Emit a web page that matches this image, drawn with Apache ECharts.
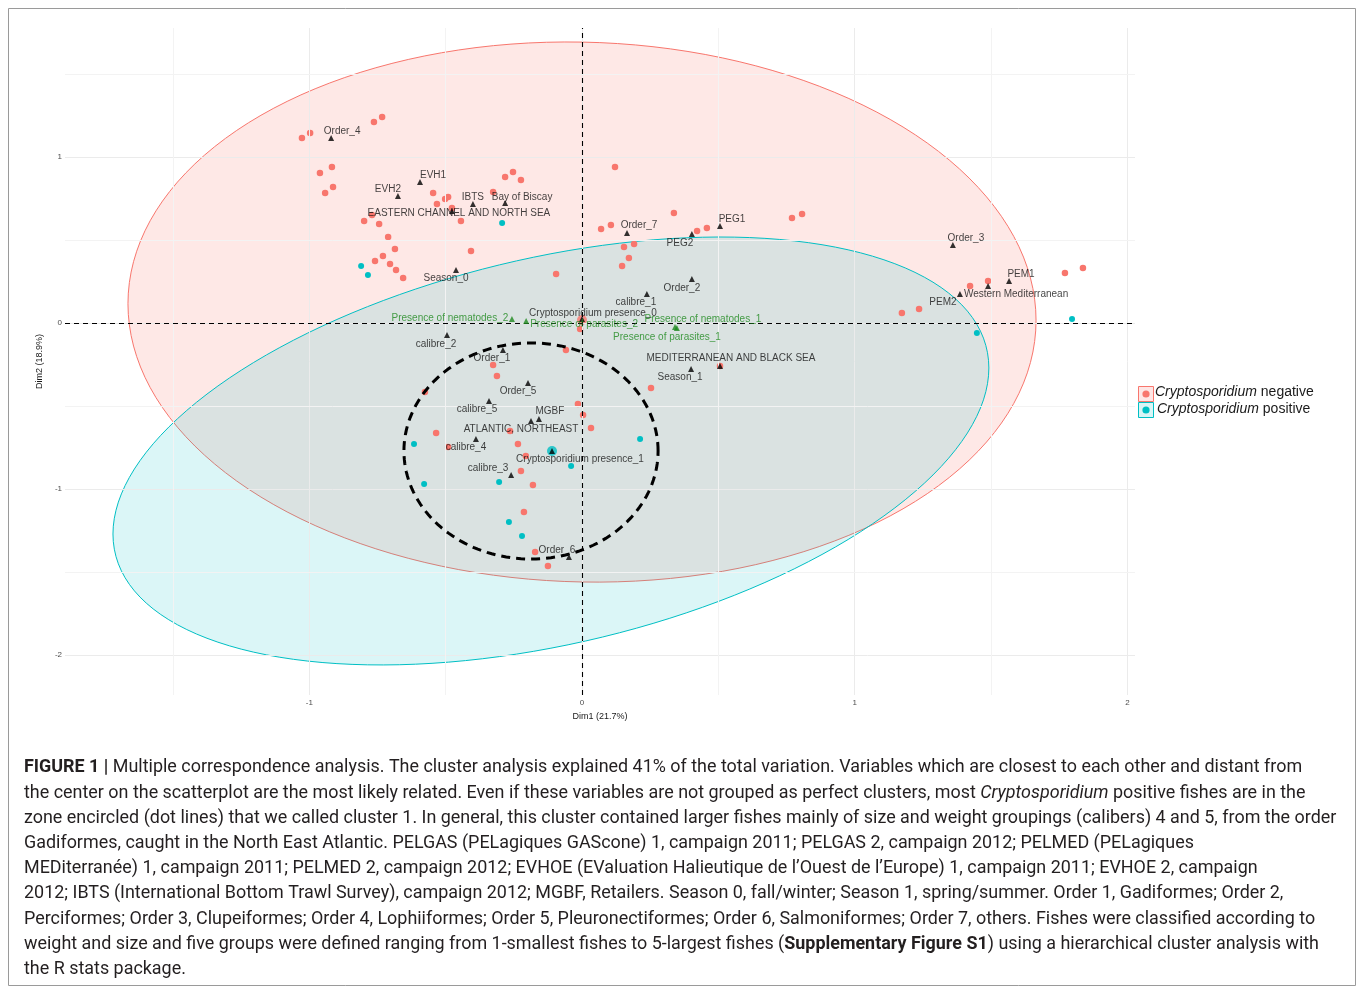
<!DOCTYPE html>
<html><head><meta charset="utf-8">
<script src="https://cdn.jsdelivr.net/npm/echarts@6/dist/echarts.min.js"></script>
<style>html,body{margin:0;padding:0;background:#fff}#c{width:1360px;height:988px}</style>
</head><body><div id="c"></div>
<script>
// ---------------- DATA ----------------
// Individuals (fishes), MCA coordinates [Dim1, Dim2]
const negativePoints = [
  [-1.027,1.114],[-0.997,1.145],[-0.763,1.211],[-0.733,1.241],[-0.961,0.904],[-0.917,0.940],
  [-0.942,0.783],[-0.913,0.819],[-0.546,0.783],[-0.532,0.717],[-0.502,0.747],[-0.491,0.759],
  [-0.477,0.693],[-0.444,0.614],[-0.799,0.614],[-0.770,0.651],[-0.744,0.596],[-0.711,0.518],
  [-0.686,0.446],[-0.730,0.404],[-0.759,0.373],[-0.704,0.355],[-0.682,0.319],[-0.656,0.271],
  [-0.407,0.434],[-0.282,0.880],[-0.253,0.910],[-0.224,0.861],[-0.326,0.789],[-0.095,0.295],
  [0.121,0.940],[0.070,0.566],[0.106,0.590],[0.337,0.663],[0.422,0.554],[0.458,0.572],
  [0.770,0.633],[0.807,0.657],[0.191,0.476],[0.154,0.458],[0.172,0.392],[0.147,0.343],
  [1.423,0.223],[1.489,0.253],[1.771,0.301],[1.837,0.331],[1.173,0.060],[1.236,0.084],
  [-0.007,-0.036],[-0.059,-0.163],[0.253,-0.392],[0.506,-0.259],[-0.015,-0.488],[0.004,-0.554],
  [0.033,-0.633],[-0.326,-0.253],[-0.312,-0.319],[-0.576,-0.416],[-0.264,-0.651],[-0.206,-0.801],
  [-0.535,-0.663],[-0.235,-0.729],[-0.491,-0.747],[-0.224,-0.892],[-0.180,-0.976],[-0.213,-1.139],
  [-0.172,-1.380],[-0.125,-1.464]
];
const positivePoints = [
  [-0.810,0.343],[-0.785,0.289],[-0.293,0.602],[-0.616,-0.729],[-0.579,-0.970],[-0.304,-0.958],
  [-0.268,-1.199],[-0.220,-1.283],[-0.040,-0.861],[0.213,-0.699],[1.448,-0.060],[1.797,0.024]
];
const groupMeanNegative = [0.000, 0.018];
const groupMeanPositive = [-0.110, -0.771];

// Active variable categories
const categoryNames = ['Order_4','EVH1','EVH2','IBTS','Bay of Biscay','EASTERN CHANNEL AND NORTH SEA','Season_0',
  'Order_7','PEG1','PEG2','Order_2','calibre_1','Order_3','PEM1','PEM2','Western Mediterranean',
  'Cryptosporidium presence_0','MEDITERRANEAN AND BLACK SEA','Season_1','calibre_2','Order_1','Order_5',
  'calibre_5','MGBF','ATLANTIC, NORTHEAST','calibre_4','Cryptosporidium presence_1','calibre_3','Order_6'];
const categoryX = [-0.920,-0.594,-0.675,-0.400,-0.282,-0.477,-0.462,
  0.165,0.506,0.403,0.403,0.238,1.360,1.566,1.386,1.489,
  0.000,0.506,0.400,-0.495,-0.290,-0.198,
  -0.341,-0.158,-0.187,-0.389,-0.110,-0.260,-0.048];
const categoryY = [1.114,0.849,0.765,0.717,0.723,0.675,0.319,
  0.542,0.584,0.536,0.265,0.175,0.470,0.253,0.175,0.223,
  0.024,-0.259,-0.277,-0.072,-0.163,-0.361,
  -0.470,-0.578,-0.590,-0.699,-0.771,-0.916,-1.410];

// Supplementary variable categories
const supplementaryNames = ['Presence of nematodes_2','Presence of parasites_2','Presence of nematodes_1','Presence of parasites_1'];
const supplementaryX = [-0.257,-0.205,0.348,0.341];
const supplementaryY = [0.024,0.012,-0.030,-0.024];

// Concentration ellipses: centre, half-width, half-height, Dim2 offset of the rightmost point
const ellipseNegative = {cx:0.000, cy:0.066, halfW:1.665, halfH:1.627, rightYOffset:-0.05};
const ellipsePositive = {cx:-0.114, cy:-0.771, halfW:1.606, halfH:1.289, rightYOffset:0.50};
const ellipseCluster1 = {cx:-0.187, cy:-0.771, halfW:0.466, halfH:0.651, rightYOffset:0.0};

// Axis ticks and grid
const xTicks = [-1, 0, 1, 2];
const yTicks = [-2, -1, 0, 1];
const xMinorGrid = [-1.5, -0.5, 0.5, 1.5];
const yMinorGrid = [-1.5, -0.5, 0.5, 1.5];

// Caption lines
const captionLines = [
  '{b|FIGURE 1 |} Multiple correspondence analysis. The cluster analysis explained 41% of the total variation. Variables which are closest to each other and distant from',
  'the center on the scatterplot are the most likely related. Even if these variables are not grouped as perfect clusters, most {i|Cryptosporidium} positive fishes are in the',
  'zone encircled (dot lines) that we called cluster 1. In general, this cluster contained larger fishes mainly of size and weight groupings (calibers) 4 and 5, from the order',
  'Gadiformes, caught in the North East Atlantic. PELGAS (PELagiques GAScone) 1, campaign 2011; PELGAS 2, campaign 2012; PELMED (PELagiques',
  'MEDiterranée) 1, campaign 2011; PELMED 2, campaign 2012; EVHOE (EValuation Halieutique de l\u2019Ouest de l\u2019Europe) 1, campaign 2011; EVHOE 2, campaign',
  '2012; IBTS (International Bottom Trawl Survey), campaign 2012; MGBF, Retailers. Season 0, fall/winter; Season 1, spring/summer. Order 1, Gadiformes; Order 2,',
  'Perciformes; Order 3, Clupeiformes; Order 4, Lophiiformes; Order 5, Pleuronectiformes; Order 6, Salmoniformes; Order 7, others. Fishes were classified according to',
  'weight and size and five groups were defined ranging from 1-smallest fishes to 5-largest fishes ({b|Supplementary Figure S1}) using a hierarchical cluster analysis with',
  'the R stats package.'
];

// ---------------- STYLE ----------------
const labelOffsets = {
  'Order_4':[11,-7],'EVH1':[13,-7],'EVH2':[-10,-7],'IBTS':[0,-7],'Bay of Biscay':[17,-6],
  'EASTERN CHANNEL AND NORTH SEA':[7,2],'Season_0':[-10,8],'Order_7':[12,-8],'PEG1':[12,-7],
  'PEG2':[-12,9],'Order_2':[-10,9],'calibre_1':[-11,8],'Order_3':[13,-7],'PEM1':[12,-7],
  'PEM2':[-17,8],'Western Mediterranean':[28,8],'Cryptosporidium presence_0':[11,-6],
  'MEDITERRANEAN AND BLACK SEA':[11,-8],'Season_1':[-11,8],'calibre_2':[-11,9],'Order_1':[-11,8],
  'Order_5':[-10,8],'calibre_5':[-12,8],'MGBF':[11,-8],'ATLANTIC, NORTHEAST':[-10,8],
  'calibre_4':[-10,8],'Cryptosporidium presence_1':[28,8],'calibre_3':[-23,-7],'Order_6':[-12,-7],
  'Presence of nematodes_2':[-62,-1],'Presence of parasites_2':[58,3],
  'Presence of nematodes_1':[26,-9],'Presence of parasites_1':[-8,10]
};
const RED = '#F8766D', CYAN = '#00BFC4', GREEN = '#1E8A1E';
const LABEL_FONT = '"Liberation Sans", Arial, sans-serif';
const CAPTION_FONT = 'Roboto, "Liberation Sans", sans-serif';

// fit caption font size so the longest line spans the reference width
const ctx = document.createElement('canvas').getContext('2d');
ctx.font = '18px ' + CAPTION_FONT;
const plain = captionLines[2].replace(/\{[a-z]\|([^}]*)\}/g, '$1');
const captionSize = Math.max(14, Math.min(20, 18 * 1313 / ctx.measureText(plain).width));

function ellipseSeries(e, fill, stroke, width, dash, z) {
  return {
    type: 'custom', coordinateSystem: 'cartesian2d', z: z, silent: true,
    data: [[e.cx, e.cy]],
    renderItem: function (params, api) {
      const q = Math.sqrt(e.halfH * e.halfH - e.rightYOffset * e.rightYOffset);
      const pts = [];
      const n = 160;
      for (let i = 0; i < n; i++) {
        const t = 2 * Math.PI * i / n;
        pts.push(api.coord([e.cx + e.halfW * Math.cos(t), e.cy + e.rightYOffset * Math.cos(t) + q * Math.sin(t)]));
      }
      return {type: 'polygon', shape: {points: pts},
        style: {fill: fill, stroke: stroke, lineWidth: width, lineDash: dash}};
    }
  };
}

function labelled(names, xs, ys) {
  return names.map((n, i) => ({
    name: n, value: [xs[i], ys[i]],
    label: {offset: labelOffsets[n] || [0, -8]}
  }));
}

const chart = echarts.init(document.getElementById('c'), null, {renderer: 'canvas'});

const graphic = [
  {type: 'rect', shape: {x: 8.5, y: 8.5, width: 1347, height: 977}, style: {fill: 'none', stroke: '#9a9a9a', lineWidth: 1}, z: 100},
  {type: 'rect', shape: {x: 1138.5, y: 386.5, width: 15, height: 15}, style: {fill: 'rgba(248,118,109,0.18)', stroke: RED, lineWidth: 1}},
  {type: 'circle', shape: {cx: 1146, cy: 394, r: 3.6}, style: {fill: RED}},
  {type: 'rect', shape: {x: 1138.5, y: 402.5, width: 15, height: 15}, style: {fill: 'rgba(0,191,196,0.15)', stroke: CYAN, lineWidth: 1}},
  {type: 'circle', shape: {cx: 1146, cy: 410, r: 3.6}, style: {fill: CYAN}},
  {type: 'text', x: 1155, y: 392, style: {text: '{i|Cryptosporidium} negative', fontSize: 14, fontFamily: LABEL_FONT, fill: '#1a1a1a', verticalAlign: 'middle',
    rich: {i: {fontStyle: 'italic', fontSize: 14, fontFamily: LABEL_FONT, fill: '#1a1a1a'}}}},
  {type: 'text', x: 1157, y: 409, style: {text: '{i|Cryptosporidium} positive', fontSize: 14, fontFamily: LABEL_FONT, fill: '#1a1a1a', verticalAlign: 'middle',
    rich: {i: {fontStyle: 'italic', fontSize: 14, fontFamily: LABEL_FONT, fill: '#1a1a1a'}}}}
];
captionLines.forEach((line, i) => {
  graphic.push({type: 'text', x: 24, y: 768 + i * 25.2, style: {
    text: line, fontSize: captionSize, fontFamily: CAPTION_FONT, fill: '#231F20', verticalAlign: 'middle',
    rich: {
      b: {fontWeight: 'bold', fontSize: captionSize, fontFamily: CAPTION_FONT, fill: '#231F20'},
      i: {fontStyle: 'italic', fontSize: captionSize, fontFamily: CAPTION_FONT, fill: '#231F20'}
    }
  }});
});

const option = {
  animation: false,
  backgroundColor: '#ffffff',
  grid: {left: 65, right: 225, top: 28, bottom: 293, containLabel: false},
  xAxis: {
    type: 'value', min: -1.8959, max: 2.0279,
    name: 'Dim1 (21.7%)', nameLocation: 'middle', nameGap: 14,
    nameTextStyle: {fontSize: 9, color: '#1a1a1a', fontFamily: LABEL_FONT},
    axisLine: {show: false},
    axisTick: {show: true, customValues: xTicks, length: 3, lineStyle: {color: '#333'}},
    axisLabel: {customValues: xTicks, fontSize: 8, color: '#4D4D4D', margin: 4, fontFamily: LABEL_FONT},
    splitLine: {show: false}
  },
  yAxis: {
    type: 'value', min: -2.2410, max: 1.7771,
    name: 'Dim2 (18.9%)', nameLocation: 'middle', nameGap: 16,
    nameTextStyle: {fontSize: 9, color: '#1a1a1a', fontFamily: LABEL_FONT},
    axisLine: {show: false},
    axisTick: {show: true, customValues: yTicks, length: 3, lineStyle: {color: '#333'}},
    axisLabel: {customValues: yTicks, fontSize: 8, color: '#4D4D4D', margin: 3, fontFamily: LABEL_FONT},
    splitLine: {show: false}
  },
  graphic: graphic,
  series: [
    {type: 'line', data: [], z: 1, silent: true,
      markLine: {silent: true, symbol: 'none', animation: false, label: {show: false},
        lineStyle: {color: '#EBEBEB', width: 1, type: 'solid'},
        data: xTicks.map(v => ({xAxis: v})).concat(yTicks.map(v => ({yAxis: v})))}},
    {type: 'line', data: [], z: 1, silent: true,
      markLine: {silent: true, symbol: 'none', animation: false, label: {show: false},
        lineStyle: {color: '#F3F3F3', width: 1, type: 'solid'},
        data: xMinorGrid.map(v => ({xAxis: v})).concat(yMinorGrid.map(v => ({yAxis: v})))}},
    ellipseSeries(ellipseNegative, 'rgba(248,118,109,0.17)', RED, 1, null, 2),
    ellipseSeries(ellipsePositive, 'rgba(0,191,196,0.14)', CYAN, 1, null, 2),
    {type: 'line', data: [], z: 3, silent: true,
      markLine: {silent: true, symbol: 'none', animation: false, label: {show: false},
        lineStyle: {color: '#000', width: 1.1, type: [5, 4]},
        data: [{xAxis: 0}, {yAxis: 0}]}},
    {type: 'scatter', name: 'Cryptosporidium negative', z: 4, symbolSize: 6.5, silent: true,
      itemStyle: {color: RED, opacity: 1}, data: negativePoints},
    {type: 'scatter', name: 'Cryptosporidium positive', z: 4, symbolSize: 6, silent: true,
      itemStyle: {color: CYAN, opacity: 1}, data: positivePoints},
    {type: 'scatter', z: 4, silent: true, symbolSize: 10,
      data: [{value: groupMeanNegative, itemStyle: {color: RED}}, {value: groupMeanPositive, itemStyle: {color: CYAN}}]},
    ellipseSeries(ellipseCluster1, 'none', '#000', 3, [9, 6], 6),
    {type: 'scatter', z: 7, silent: true, symbol: 'triangle', symbolSize: 6,
      itemStyle: {color: '#000'},
      label: {show: true, position: 'inside', formatter: '{b}', fontSize: 10, color: '#111', fontFamily: LABEL_FONT},
      data: labelled(categoryNames, categoryX, categoryY)},
    {type: 'scatter', z: 7, silent: true, symbol: 'triangle', symbolSize: 6,
      itemStyle: {color: GREEN},
      label: {show: true, position: 'inside', formatter: '{b}', fontSize: 10, color: GREEN, fontFamily: LABEL_FONT},
      data: labelled(supplementaryNames, supplementaryX, supplementaryY)}
  ]
};
chart.setOption(option);
</script>
</body></html>
